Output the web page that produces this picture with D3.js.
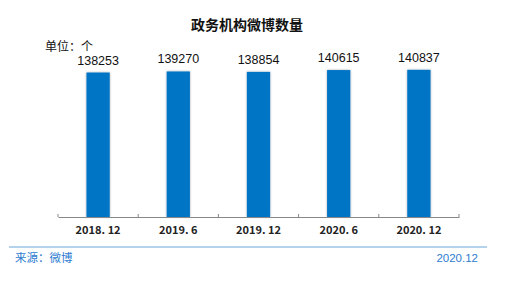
<!DOCTYPE html>
<html>
<head>
<meta charset="utf-8">
<script src="https://cdn.jsdelivr.net/npm/d3@7"></script>
<style>
  body { margin: 0; background: #fff; }
  text { font-family: "Liberation Sans", Arial, "Noto Sans CJK SC", sans-serif; }
</style>
</head>
<body>
<div class="chart"></div>
<script>
var categories = ["2018. 12", "2019. 6", "2019. 12", "2020. 6", "2020. 12"];
var values = [138253, 139270, 138854, 140615, 140837];

var width = 518, height = 285;
var svg = d3.select(".chart").append("svg")
  .attr("width", width)
  .attr("height", height);

var defs = svg.append("defs");
var f = defs.append("filter").attr("id", "shadow")
  .attr("x", "-30%").attr("y", "-10%").attr("width", "160%").attr("height", "120%");
f.append("feDropShadow").attr("dx", 0).attr("dy", 0).attr("stdDeviation", 1.2)
  .attr("flood-color", "#000").attr("flood-opacity", 0.35);

var x = d3.scaleBand()
  .domain(categories)
  .range([58, 459])
  .paddingInner(0.71)
  .paddingOuter(0.355);

var y = d3.scaleLinear()
  .domain([0, 200000])
  .range([217, 8]);

// title
svg.append("text")
  .attr("x", 247).attr("y", 30)
  .attr("text-anchor", "middle")
  .style("font-size", "14px").style("font-weight", "bold")
  .style("font-family", "'Noto Sans CJK SC', sans-serif")
  .attr("fill", "#111")
  .text("政务机构微博数量");

svg.append("text")
  .attr("x", 45).attr("y", 51)
  .style("font-size", "12px")
  .style("font-family", "'Noto Sans CJK SC', sans-serif")
  .attr("fill", "#111")
  .text("单位：个");

// bars
svg.selectAll("rect.bar")
  .data(values)
  .enter().append("rect")
  .attr("class", "bar")
  .attr("x", function(d, i) { return x(categories[i]); })
  .attr("width", x.bandwidth())
  .attr("y", function(d) { return y(d); })
  .attr("height", function(d) { return y(0) - y(d); })
  .attr("fill", "#0675C6")
  .attr("filter", "url(#shadow)");

svg.selectAll("text.val")
  .data(values)
  .enter().append("text")
  .attr("class", "val")
  .attr("x", function(d, i) { return x(categories[i]) + x.bandwidth() / 2; })
  .attr("y", function(d) { return y(d) - 8; })
  .attr("text-anchor", "middle")
  .style("font-size", "12.5px")
  .attr("fill", "#111")
  .text(function(d) { return d; });

// x axis
var xAxis = d3.axisBottom(x).tickSize(0).tickPadding(9);
var gx = svg.append("g")
  .attr("transform", "translate(0," + y(0) + ")")
  .call(xAxis);
gx.select(".domain").attr("stroke", "#888").attr("stroke-width", 1.2);
gx.selectAll("text")
  .style("font-size", "11px")
  .style("font-family", "'Noto Sans CJK SC', sans-serif")
  .style("font-weight", "bold")
  .attr("fill", "#222");

// category boundary ticks
var bounds = d3.range(categories.length + 1).map(function(i) { return 58 + i * (401 / categories.length); });
gx.selectAll("line.sep")
  .data(bounds)
  .enter().append("line")
  .attr("class", "sep")
  .attr("x1", function(d) { return d; })
  .attr("x2", function(d) { return d; })
  .attr("y1", -3).attr("y2", 0)
  .attr("stroke", "#888");

// footer
svg.append("line")
  .attr("x1", 9).attr("x2", 487)
  .attr("y1", 247).attr("y2", 247)
  .attr("stroke", "#9DC3E6").attr("stroke-width", 1.5);

svg.append("text")
  .attr("x", 15).attr("y", 262)
  .style("font-size", "11.5px")
  .style("font-family", "'Noto Sans CJK SC', sans-serif")
  .attr("fill", "#2E7CD0")
  .text("来源：微博");

svg.append("text")
  .attr("x", 478).attr("y", 262)
  .attr("text-anchor", "end")
  .style("font-size", "11.5px")
  .attr("fill", "#2E7CD0")
  .text("2020.12");
</script>
</body>
</html>
